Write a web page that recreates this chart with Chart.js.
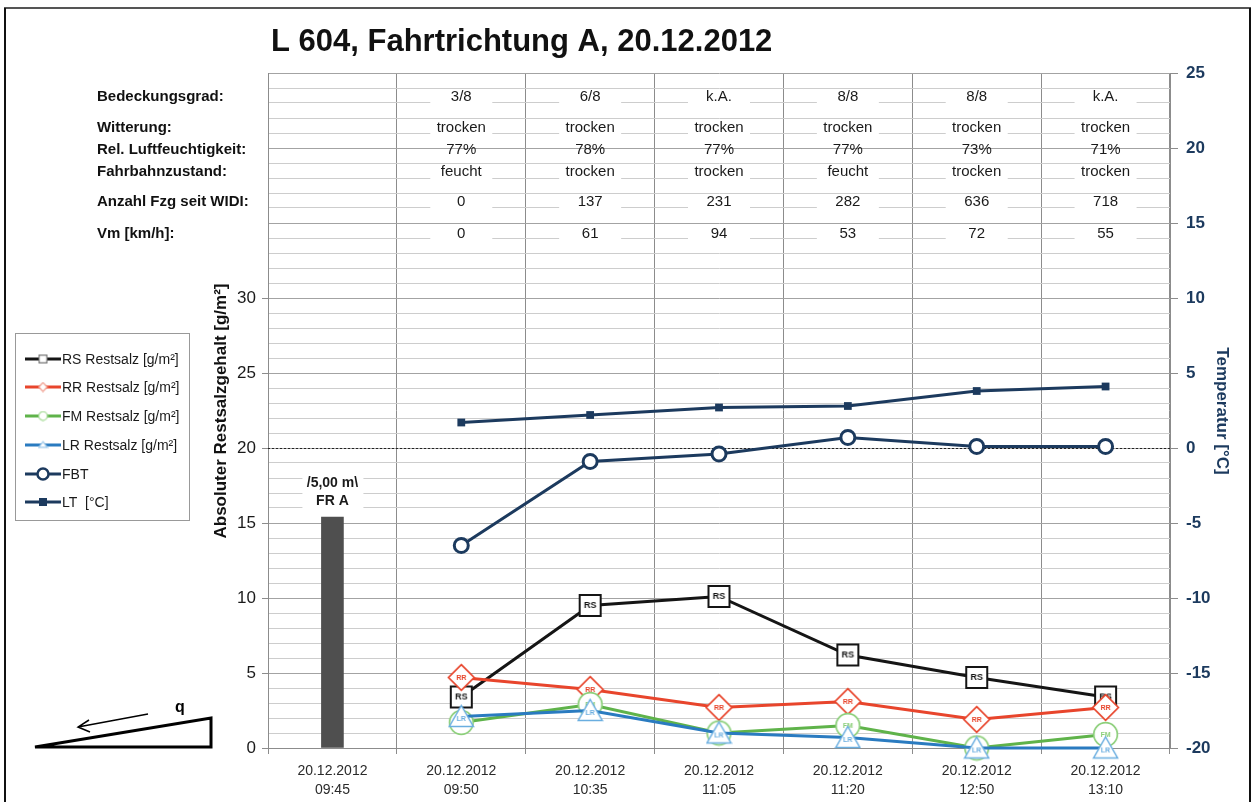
<!DOCTYPE html>
<html>
<head>
<meta charset="utf-8">
<script src="https://cdn.jsdelivr.net/npm/chart.js@4.4.0/dist/chart.umd.min.js"></script>
<style>
  html, body { margin: 0; padding: 0; background: #fff; }
  #wrap { width: 1253px; height: 802px; position: relative; }
</style>
</head>
<body>
<div id="wrap"><canvas id="c" width="1253" height="802"></canvas></div>
<script>
// --- data ---
const categories = [
  ['20.12.2012', '09:45'], ['20.12.2012', '09:50'], ['20.12.2012', '10:35'],
  ['20.12.2012', '11:05'], ['20.12.2012', '11:20'], ['20.12.2012', '12:50'],
  ['20.12.2012', '13:10']
];
const barValues = [15.4, null, null, null, null, null, null];
const rsValues = [null, 3.4, 9.5, 10.1, 6.2, 4.7, 3.4];
const rrValues = [null, 4.7, 3.9, 2.7, 3.1, 1.9, 2.7];
const fmValues = [null, 1.7, 2.9, 1.0, 1.5, 0, 0.9];
const lrValues = [null, 2.1, 2.5, 1.0, 0.7, 0, 0];
const fbtValues = [null, -6.5, -0.9, -0.4, 0.7, 0.1, 0.1];
const ltValues = [null, 1.7, 2.2, 2.7, 2.8, 3.8, 4.1];
const leftTicks = [0, 5, 10, 15, 20, 25, 30];
const rightTicks = [-20, -15, -10, -5, 0, 5, 10, 15, 20, 25];

const headerLabels = ['Bedeckungsgrad:', 'Witterung:', 'Rel. Luftfeuchtigkeit:', 'Fahrbahnzustand:', 'Anzahl Fzg seit WIDI:', 'Vm [km/h]:'];
const bedeckung = ['', '3/8', '6/8', 'k.A.', '8/8', '8/8', 'k.A.'];
const witterung = ['', 'trocken', 'trocken', 'trocken', 'trocken', 'trocken', 'trocken'];
const luftfeuchte = ['', '77%', '78%', '77%', '77%', '73%', '71%'];
const fahrbahn = ['', 'feucht', 'trocken', 'trocken', 'feucht', 'trocken', 'trocken'];
const anzahlFzg = ['', '0', '137', '231', '282', '636', '718'];
const vmValues = ['', '0', '61', '94', '53', '72', '55'];
const headerRows = [bedeckung, witterung, luftfeuchte, fahrbahn, anzahlFzg, vmValues];

// --- styling ---
const FONT = '"Liberation Sans", Arial, sans-serif';
const NAVY = '#1c3a5e';
const BLACK = '#151515';
const RED = '#e8452c';
const GREEN = '#5fb34a';
const BLUE = '#2a7bc0';
const rowPos = [43.4, 41.33, 39.87, 38.4, 36.4, 34.27]; // header rows, in left-axis units
const rowBoxed = [true, true, false, true, true, true];

// marker images with a text label inside
function makeMarker(shape, text, color, size, fontSize, lw) {
  const c = document.createElement('canvas');
  c.width = size; c.height = size;
  const g = c.getContext('2d');
  const m = size / 2;
  g.fillStyle = '#fff';
  g.strokeStyle = color;
  g.lineWidth = lw;
  g.beginPath();
  if (shape === 'rect') {
    g.rect(lw / 2 + 1, lw / 2 + 1, size - lw - 2, size - lw - 2);
  } else if (shape === 'diamond') {
    g.moveTo(m, lw); g.lineTo(size - lw, m); g.lineTo(m, size - lw); g.lineTo(lw, m); g.closePath();
  } else if (shape === 'circle') {
    g.arc(m, m, m - lw, 0, Math.PI * 2);
  } else if (shape === 'triangle') {
    g.moveTo(m, lw + 1); g.lineTo(size - lw, size - lw - 2); g.lineTo(lw, size - lw - 2); g.closePath();
  }
  g.fill();
  g.stroke();
  if (text) {
    g.fillStyle = color;
    g.font = 'bold ' + fontSize + 'px ' + FONT;
    g.textAlign = 'center';
    g.textBaseline = 'middle';
    g.fillText(text, m, shape === 'triangle' ? m + 3 : m + 0.5);
  }
  return c;
}

const rsMarker = makeMarker('rect', 'RS', BLACK, 25, 9, 2);
const rrMarker = makeMarker('diamond', 'RR', RED, 29, 7, 1.7);
const fmMarker = makeMarker('circle', 'FM', '#8ccf7a', 27, 7, 1.7);
const lrMarker = makeMarker('triangle', 'LR', '#6aaee0', 27, 7, 1.5);

function legendMarker(shape, color) {
  return makeMarker(shape, '', color, 11, 0, 1.2);
}

const overlay = {
  id: 'overlay',
  beforeDatasetsDraw(chart) {
    const { ctx, chartArea: a, scales: { x, y, y2 } } = chart;
    ctx.save();
    // dotted 0 °C line
    const y0 = Math.round(y2.getPixelForValue(0)) + 0.5;
    ctx.setLineDash([2, 2]);
    ctx.strokeStyle = '#222';
    ctx.lineWidth = 1;
    ctx.beginPath(); ctx.moveTo(a.left, y0); ctx.lineTo(a.right, y0); ctx.stroke();
    ctx.setLineDash([]);

    // header values per column
    ctx.font = '15px ' + FONT;
    ctx.textAlign = 'center';
    ctx.textBaseline = 'middle';
    headerRows.forEach((row, r) => {
      const py = y.getPixelForValue(rowPos[r]);
      row.forEach((t, i) => {
        if (!t) return;
        const px = x.getPixelForValue(i);
        if (rowBoxed[r]) {
          ctx.fillStyle = '#fff';
          ctx.fillRect(px - 31, py - 7, 62, 14);
        }
        ctx.fillStyle = '#1a1a1a';
        ctx.fillText(t, px, py);
      });
    });

    // label above the bar
    const bx = x.getPixelForValue(0);
    const by = y.getPixelForValue(barValues[0]);
    ctx.fillStyle = '#fff';
    ctx.fillRect(bx - 30, by - 45, 61, 38);
    ctx.fillStyle = '#1a1a1a';
    ctx.font = 'bold 14px ' + FONT;
    ctx.fillText('/5,00 m\\', bx, by - 34);
    ctx.fillText('FR A', bx, by - 16);
    ctx.restore();
  },
  afterDraw(chart) {
    const { ctx, scales: { y } } = chart;
    ctx.save();
    // title
    ctx.fillStyle = '#111';
    ctx.font = 'bold 31px ' + FONT;
    ctx.textAlign = 'left';
    ctx.textBaseline = 'middle';
    ctx.fillText('L 604, Fahrtrichtung A, 20.12.2012', 271, 42);

    // header row labels
    ctx.font = 'bold 15px ' + FONT;
    headerLabels.forEach((t, r) => {
      ctx.fillText(t, 97, y.getPixelForValue(rowPos[r]));
    });

    // axis titles
    ctx.textAlign = 'center';
    ctx.font = 'bold 17px ' + FONT;
    ctx.save();
    ctx.translate(221, 411);
    ctx.rotate(-Math.PI / 2);
    ctx.fillText('Absoluter Restsalzgehalt [g/m²]', 0, 0);
    ctx.restore();
    ctx.save();
    ctx.fillStyle = NAVY;
    ctx.translate(1222, 411);
    ctx.rotate(Math.PI / 2);
    ctx.fillText('Temperatur [°C]', 0, 0);
    ctx.restore();

    // legend box
    ctx.fillStyle = '#fff';
    ctx.fillRect(16, 333, 174, 187);
    ctx.strokeStyle = '#999';
    ctx.lineWidth = 1;
    ctx.strokeRect(15.5, 333.5, 174, 187);
    const items = [
      ['RS Restsalz [g/m²]', BLACK, legendMarker('rect', '#777')],
      ['RR Restsalz [g/m²]', RED, legendMarker('diamond', '#f09a8a')],
      ['FM Restsalz [g/m²]', GREEN, legendMarker('circle', '#a8dc9a')],
      ['LR Restsalz [g/m²]', BLUE, legendMarker('triangle', '#9cc8ea')],
      ['FBT', NAVY, 'circle'],
      ['LT  [°C]', NAVY, 'square']
    ];
    const ly = [359, 387, 416, 445, 474, 502];
    ctx.font = '14px ' + FONT;
    ctx.textAlign = 'left';
    items.forEach((it, i) => {
      const yy = ly[i];
      ctx.strokeStyle = it[1];
      ctx.lineWidth = 3;
      ctx.beginPath(); ctx.moveTo(25, yy); ctx.lineTo(61, yy); ctx.stroke();
      if (it[2] === 'circle') {
        ctx.fillStyle = '#fff';
        ctx.lineWidth = 2.5;
        ctx.beginPath(); ctx.arc(43, yy, 5.5, 0, Math.PI * 2); ctx.fill(); ctx.stroke();
      } else if (it[2] === 'square') {
        ctx.fillStyle = NAVY;
        ctx.fillRect(39, yy - 4, 8, 8);
      } else {
        ctx.drawImage(it[2], 43 - 5.5, yy - 5.5);
      }
      ctx.fillStyle = '#1a1a1a';
      ctx.fillText(it[0], 62, yy + 1);
    });

    // slope sketch bottom left
    ctx.strokeStyle = '#000';
    ctx.lineWidth = 3;
    ctx.lineJoin = 'miter';
    ctx.beginPath();
    ctx.moveTo(35, 747); ctx.lineTo(211, 747); ctx.lineTo(211, 718); ctx.closePath();
    ctx.stroke();
    ctx.lineWidth = 1.5;
    ctx.beginPath();
    ctx.moveTo(148, 714); ctx.lineTo(78, 727);
    ctx.moveTo(89, 720); ctx.lineTo(78, 727); ctx.lineTo(90, 732);
    ctx.stroke();
    ctx.fillStyle = '#000';
    ctx.font = 'bold 16px ' + FONT;
    ctx.textAlign = 'center';
    ctx.fillText('q', 180, 708);

    // outer frame
    ctx.strokeStyle = '#555';
    ctx.lineWidth = 2;
    ctx.beginPath(); ctx.moveTo(4, 8); ctx.lineTo(1251, 8); ctx.stroke();
    ctx.strokeStyle = '#111';
    ctx.beginPath(); ctx.moveTo(5, 8); ctx.lineTo(5, 802); ctx.moveTo(1250, 8); ctx.lineTo(1250, 802); ctx.stroke();
    ctx.restore();
  }
};

const ctx = document.getElementById('c').getContext('2d');
new Chart(ctx, {
  type: 'bar',
  data: {
    labels: categories,
    datasets: [
      { type: 'line', label: 'LR Restsalz [g/m²]', data: lrValues, yAxisID: 'y', order: 1,
        borderColor: BLUE, borderWidth: 3, pointStyle: lrMarker, pointRadius: 12, clip: false },
      { type: 'line', label: 'FM Restsalz [g/m²]', data: fmValues, yAxisID: 'y', order: 2,
        borderColor: GREEN, borderWidth: 3, pointStyle: fmMarker, pointRadius: 12, clip: false },
      { type: 'line', label: 'RR Restsalz [g/m²]', data: rrValues, yAxisID: 'y', order: 3,
        borderColor: RED, borderWidth: 3, pointStyle: rrMarker, pointRadius: 12, clip: false },
      { type: 'line', label: 'RS Restsalz [g/m²]', data: rsValues, yAxisID: 'y', order: 4,
        borderColor: BLACK, borderWidth: 3, pointStyle: rsMarker, pointRadius: 12, clip: false },
      { type: 'line', label: 'FBT', data: fbtValues, yAxisID: 'y2', order: 5,
        borderColor: NAVY, borderWidth: 3, pointStyle: 'circle', pointRadius: 7,
        pointBorderWidth: 3, pointBackgroundColor: '#fff', pointBorderColor: NAVY, clip: false },
      { type: 'line', label: 'LT [°C]', data: ltValues, yAxisID: 'y2', order: 6,
        borderColor: NAVY, borderWidth: 3, pointStyle: 'rect', pointRadius: 5.5,
        pointBorderWidth: 0, pointBackgroundColor: NAVY, clip: false },
      { type: 'bar', label: 'Bar', data: barValues, yAxisID: 'y', order: 10,
        backgroundColor: '#4f4f4f', barThickness: 22 }
    ]
  },
  options: {
    responsive: false,
    animation: false,
    events: [],
    layout: { padding: { top: 73, left: 0, right: 0, bottom: 0 } },
    plugins: { legend: { display: false }, tooltip: { enabled: false } },
    scales: {
      x: {
        offset: true,
        grid: { offset: true, color: '#8c8c8c', tickLength: 6, tickColor: '#8c8c8c' },
        border: { color: '#8c8c8c' },
        ticks: { color: '#2a2a2a', font: { family: FONT, size: 14, lineHeight: 1.35 }, maxRotation: 0, autoSkip: false, padding: 8 },
        afterFit: (s) => { s.height = 54; }
      },
      y: {
        position: 'left',
        min: 0, max: 45,
        ticks: {
          stepSize: 1, autoSkip: false, color: '#1a1a1a', padding: 6,
          font: { family: FONT, size: 17 },
          callback: (v) => leftTicks.includes(v) ? String(v) : ''
        },
        grid: {
          color: (c) => (c.tick && c.tick.value % 5 === 0) ? '#a3a3a3' : '#cdcdcd',
          tickColor: (c) => (c.tick && leftTicks.includes(c.tick.value)) ? '#8c8c8c' : 'rgba(0,0,0,0)',
          tickLength: 6
        },
        border: { color: '#8c8c8c' },
        afterFit: (s) => { s.width = 268; }
      },
      y2: {
        position: 'right',
        min: -20, max: 25,
        ticks: {
          stepSize: 5, color: NAVY, padding: 8,
          font: { family: FONT, size: 17, weight: 'bold' },
          callback: (v) => rightTicks.includes(v) ? String(v) : ''
        },
        grid: { drawOnChartArea: false, tickLength: 8, color: '#8c8c8c' },
        border: { color: '#8c8c8c' },
        afterFit: (s) => { s.width = 83; }
      }
    }
  },
  plugins: [overlay]
});
</script>
</body>
</html>
